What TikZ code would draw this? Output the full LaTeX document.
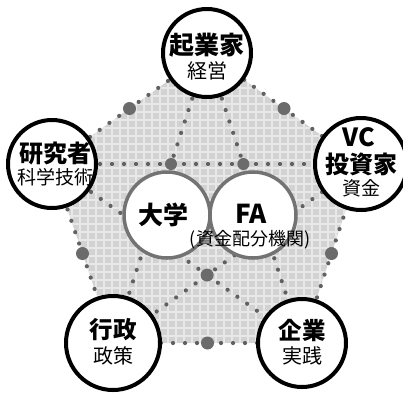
\documentclass[tikz,border=0pt]{standalone}
\usepackage{fontspec}
\setmainfont{Noto Sans CJK JP}
\usetikzlibrary{calc}
\tikzset{
  bigcirc/.style={circle, draw=black, line width=4pt, fill=white, minimum size=88pt, inner sep=0pt},
  innercirc/.style={circle, draw=black!55, line width=3.5pt, fill=white, minimum size=86pt, inner sep=0pt},
  dotline/.style={draw=black!62, line width=4.2pt, line cap=round, dash pattern=on 0pt off 12pt},
  bigdot/.style={fill=black!58},
  lab/.style={inner sep=0pt, text=black},
}
\newcommand{\bt}[1]{\fontsize{#1}{#1}\selectfont\bfseries}
\newcommand{\rt}[1]{\fontsize{#1}{#1}\selectfont}
\begin{document}
\begin{tikzpicture}[x=1pt,y=-1pt]
\useasboundingbox (0,0) rectangle (403,392);
% vertices
\coordinate (T) at (207,53);
\coordinate (L) at (52,164);
\coordinate (R) at (361,164);
\coordinate (BL) at (113,343);
\coordinate (BR) at (302,343);
% shaded pentagon
\fill[gray!35] (T) -- (R) -- (BR) -- (BL) -- (L) -- cycle;
\begin{scope}
  \clip (T) -- (R) -- (BR) -- (BL) -- (L) -- cycle;
  \draw[white, opacity=0.5, line width=1.3pt, step=8pt] (0,0) grid (403,392);
\end{scope}
% pentagon edges
\draw[dotline] (T) -- (L);
\draw[dotline] (L) -- (BL);
\draw[dotline] (BL) -- (BR);
\draw[dotline] (BR) -- (R);
\draw[dotline] (R) -- (T);
% pentagram
\draw[dotline] (L) -- (R);
\draw[dotline] (T) -- (BL);
\draw[dotline] (T) -- (BR);
\draw[dotline] (L) -- (BR);
\draw[dotline] (R) -- (BL);
% big dots at edge midpoints
\fill[bigdot] ($(T)!0.5!(L)$) circle (6.5pt);
\fill[bigdot] ($(T)!0.5!(R)$) circle (6.5pt);
\fill[bigdot] ($(L)!0.5!(BL)$) circle (6.5pt);
\fill[bigdot] ($(R)!0.5!(BR)$) circle (6.5pt);
\fill[bigdot] ($(BL)!0.5!(BR)$) circle (6.5pt);
% big dots at star intersections
\fill[bigdot] (intersection of T--BL and L--R) circle (6pt);
\fill[bigdot] (intersection of T--BR and L--R) circle (6pt);
\fill[bigdot] (intersection of L--BR and R--BL) circle (6.5pt);
% inner circles
\node[innercirc] (uni) at (167,215) {};
\node[innercirc] (fa) at (253,215) {};
\node[lab] (unit) at (163,215) {\bt{25}大学};
\node[lab] (fat) at (251,214) {\bt{26}FA};
\node[lab] (fasub) at (250,240) {\rt{18}(資金配分機関)};
% outer circles
\node[bigcirc] (top) at (T) {};
\node[bigcirc] (left) at (L) {};
\node[bigcirc, minimum size=92pt] (right) at (R) {};
\node[bigcirc, minimum size=94pt] (bl) at (BL) {};
\node[bigcirc] (br) at (BR) {};
% labels
\node[lab] (t1) at (207,45) {\bt{25}起業家};
\node[lab] (t2) at (207,71) {\rt{20}経営};
\node[lab] (l1) at (55,153) {\bt{24}研究者};
\node[lab] (l2) at (55,177) {\rt{19}科学技術};
\node[lab] (r0) at (359,137) {\bt{25}VC};
\node[lab] (r1) at (361,164) {\bt{24}投資家};
\node[lab] (r2) at (361,188) {\rt{19}資金};
\node[lab] (bl1) at (113,330) {\bt{23.5}行政};
\node[lab] (bl2) at (113,356) {\rt{20}政策};
\node[lab] (br1) at (302,330) {\bt{23.5}企業};
\node[lab] (br2) at (302,356) {\rt{20}実践};
\end{tikzpicture}
\end{document}
